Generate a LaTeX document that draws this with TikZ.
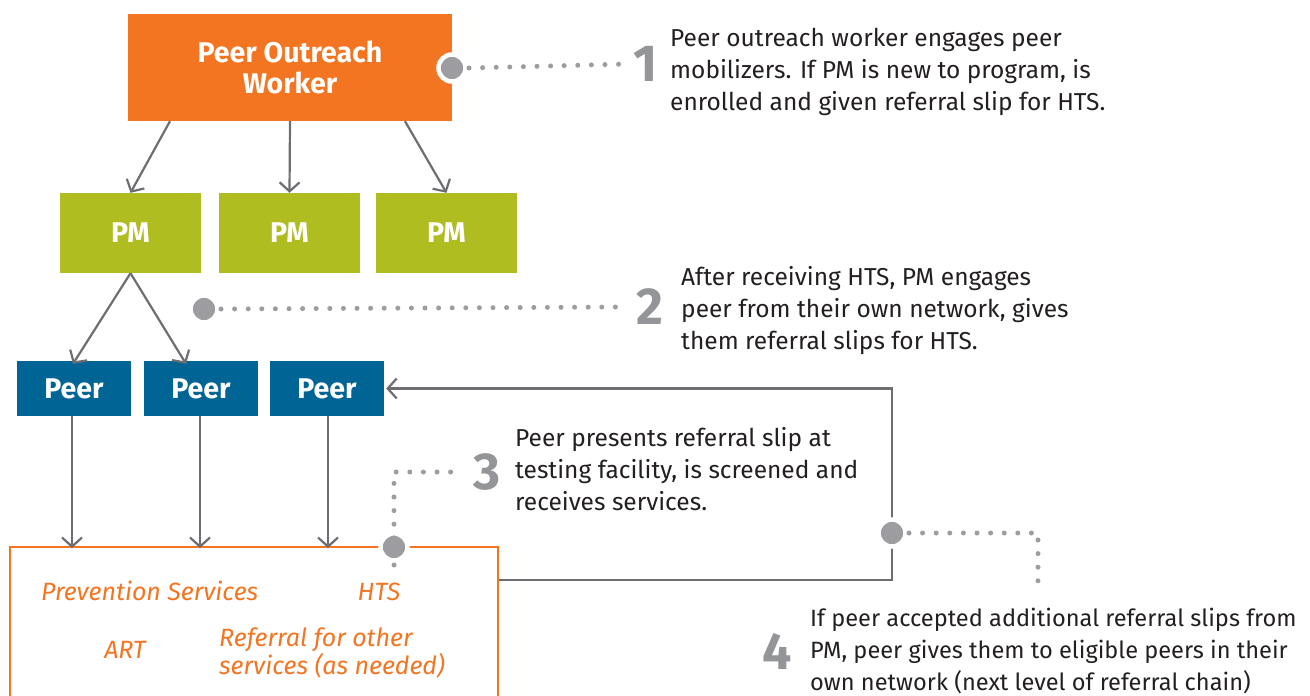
\documentclass[tikz,border=0pt]{standalone}
\usepackage{fontspec}
\setmainfont{Fira Sans}
\usetikzlibrary{arrows.meta,calc}
\definecolor{cOrange}{HTML}{F37521}
\definecolor{cGreen}{HTML}{AFBD21}
\definecolor{cBlue}{HTML}{006595}
\definecolor{cDot}{HTML}{9D9DA1}
\definecolor{cNum}{HTML}{939598}
\definecolor{cArr}{HTML}{6D6E71}
\definecolor{cText}{HTML}{231F20}
\tikzset{
  boxbase/.style={rectangle, inner sep=0pt, text=white, font=\fontsize{28.5}{31}\selectfont\bfseries, align=center},
  powbox/.style={boxbase, fill=cOrange, minimum width=324pt, minimum height=107pt},
  pmbox/.style={boxbase, fill=cGreen, minimum width=141pt, minimum height=80pt},
  peerbox/.style={boxbase, fill=cBlue, minimum width=114pt, minimum height=55pt},
  svcbox/.style={rectangle, draw=cOrange, line width=2pt, minimum width=488pt, minimum height=170pt, inner sep=0pt},
  conn/.style={draw=cArr, line width=2.2pt, -{Straight Barb[length=9pt,width=20pt,line width=2.2pt]}},
  dotline/.style={draw=cDot, line width=5pt, line cap=round, dash pattern=on 0pt off 13.6pt},
  bigdot/.style={circle, fill=cDot, draw=white, line width=4.5pt, minimum size=27pt, inner sep=0pt},
  num/.style={text=cNum, font=\fontsize{52}{52}\selectfont\bfseries, inner sep=0pt},
  desc/.style={text=cText, font=\fontsize{24.5}{32}\selectfont, align=left, inner sep=0pt, anchor=base west},
  descsmall/.style={desc, font=\fontsize{23.6}{32}\selectfont},
  svctext/.style={text=cOrange, font=\fontsize{25}{28}\selectfont\itshape, inner sep=0pt, align=left}
}
\begin{document}
\begin{tikzpicture}[x=1pt,y=-1pt]
\useasboundingbox (0,0) rectangle (1310,696);
% boxes
\node[powbox] (pow) at (290,67.5) {Peer Outreach\\Worker};
\node[pmbox] (pm1) at (130.5,233) {PM};
\node[pmbox] (pm2) at (289.5,233) {PM};
\node[pmbox] (pm3) at (446.5,233) {PM};
\node[peerbox] (peer1) at (74,388.5) {Peer};
\node[peerbox] (peer2) at (201,388.5) {Peer};
\node[peerbox] (peer3) at (327,388.5) {Peer};
\node[svcbox] (svc) at (254,632) {};
% service texts
\node[svctext, anchor=base west] (t1) at (41,600) {Prevention Services};
\node[svctext, anchor=base] (t2) at (379,600) {HTS};
\node[svctext, anchor=base] (t3) at (125,658) {ART};
\node[svctext, anchor=base west] (t4) at (219,674) {Referral for other\\services (as needed)};
% arrows
\draw[conn] ([xshift=-120pt]pow.south) -- (pm1.north);
\draw[conn] (pow.south) -- (pm2.north);
\draw[conn] ([xshift=115pt]pow.south) -- (pm3.north);
\draw[conn] (pm1.south) -- ([xshift=-1pt,yshift=-3pt]peer1.north);
\draw[conn] (pm1.south) -- ([xshift=-15pt,yshift=-3pt]peer2.north);
\draw[conn] ([xshift=-2pt]peer1.south) -- ([xshift=-2pt,yshift=-2pt]peer1.south |- svc.north);
\draw[conn] ([xshift=-1pt]peer2.south) -- ([xshift=-1pt,yshift=-2pt]peer2.south |- svc.north);
\draw[conn] ([xshift=1pt]peer3.south) -- ([xshift=1pt,yshift=-2pt]peer3.south |- svc.north);
% step 4 loop connector
\coordinate (c4) at (892,533);
\draw[conn] (svc.east |- 0,580) -| (c4) |- ([xshift=2pt]peer3.east);
% dots
\node[bigdot] (d1) at (452,68) {};
\node[bigdot] (d2) at (204,309) {};
\node[bigdot] (d3) at (394,547) {};
\node[bigdot] (d4) at (c4) {};
% numbers
\node[num] (n1) at (646,64) {1};
\node[num] (n2) at (650,307) {2};
\node[num] (n3) at (487,472) {3};
\node[num] (n4) at (777,651) {4};
% dotted leaders
\draw[dotline] ([xshift=17pt]d1.center) -- ([xshift=-18pt]n1.center);
\draw[dotline] ([xshift=17pt]d2.center) -- ([xshift=-26pt]n2.center);
\draw[dotline] ([yshift=-18pt]d3.center) -- (d3.center |- n3.center) -- ([xshift=-24pt]n3.center);
\draw[dotline] ([xshift=17pt]d4.center) -- (1038,533) -- (1038,590);
% descriptions
\node[desc] (s1) at (670,110) {Peer outreach worker engages peer\\mobilizers. If PM is new to program, is\\enrolled and given referral slip for HTS.};
\node[desc] (s2) at (681,349) {After receiving HTS, PM engages\\peer from their own network, gives\\them referral slips for HTS.};
\node[desc] (s3) at (515,510) {Peer presents referral slip at\\testing facility, is screened and\\receives services.};
\node[descsmall] (s4) at (810,690) {If peer accepted additional referral slips from\\PM, peer gives them to eligible peers in their\\own network (next level of referral chain)};
\end{tikzpicture}
\end{document}
